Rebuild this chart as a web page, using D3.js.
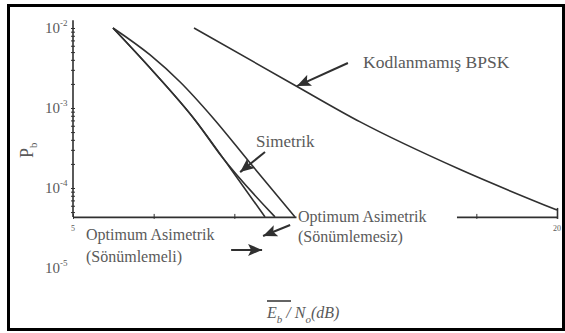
<!DOCTYPE html>
<html>
<head>
<meta charset="utf-8">
<script src="https://cdn.jsdelivr.net/npm/d3@7"></script>
<style>
  html, body { margin: 0; padding: 0; background: #fff; }
  svg { display: block; }
  text { font-family: "Liberation Serif", "Times New Roman", serif; fill: #5a5a5a; }
</style>
</head>
<body>
<svg id="chart" width="565" height="333"></svg>
<script>
// ---- data ----
const xTicks = [5, 7.5, 10, 12.5, 15, 17.5, 20];
const xTickLabels = [[5, "5"], [20, "20"]];
const yDecades = [1e-2, 1e-3, 1e-4, 1e-5];
const yDecadeExp = ["-2", "-3", "-4", "-5"];
const pbFloor = 4.35e-5;          // where the x axis is drawn

// Kodlanmamış BPSK
const bpskDb = [8.75, 11.9, 13.9, 17.0, 20.0];
const bpskPb = [1.0e-2, 1.9e-3, 6.7e-4, 1.7e-4, 5.3e-5];
// Optimum Asimetrik (Sönümlemeli)
const fadDb = [6.24, 7.39, 8.78, 9.87, 10.95];
const fadPb = [1.0e-2, 3.16e-3, 7.1e-4, 1.78e-4, 4.35e-5];
// Simetrik
const symDb = [6.24, 7.39, 8.78, 9.62, 11.26];
const symPb = [1.0e-2, 3.16e-3, 7.1e-4, 2.44e-4, 4.35e-5];
// Optimum Asimetrik (Sönümlemesiz)
const nofDb = [6.24, 7.39, 8.32, 9.34, 10.49, 11.88];
const nofPb = [1.0e-2, 4.6e-3, 2.11e-3, 7.5e-4, 2.05e-4, 4.35e-5];

// annotation arrows (from -> to), in data units
const arrowFromDb = [13.52, 10.95, 11.73, 9.90];
const arrowFromPb = [3.65e-3, 2.82e-4, 3.45e-5, 1.68e-5];
const arrowToDb   = [11.94, 10.18, 10.89, 10.86];
const arrowToPb   = [1.88e-3, 1.58e-4, 2.51e-5, 1.68e-5];
const axisGapDb = [11.88, 16.9];

// ---- drawing ----
const svg = d3.select("#chart");
const ink = "#303030";

const x = d3.scaleLinear().domain([5, 20]).range([73, 557]);
const y = d3.scaleLog().domain([1e-5, 1e-2]).range([268, 28]);
const yAxisPos = y(pbFloor);

// frame
svg.append("rect")
  .attr("x", 8.5).attr("y", 5.5).attr("width", 555).attr("height", 324)
  .attr("fill", "none").attr("stroke", "#000").attr("stroke-width", 3);

// arrow marker
const defs = svg.append("defs");
defs.append("marker").attr("id", "ah")
  .attr("markerUnits", "userSpaceOnUse")
  .attr("markerWidth", 15).attr("markerHeight", 12)
  .attr("refX", 14).attr("refY", 6).attr("orient", "auto")
  .append("path").attr("d", "M0,0 L14,6 L0,12 L3,6 Z").attr("fill", ink);

// y axis
const yMinor = [];
for (let e = -5; e <= -2; e++) for (let m = 1; m < 10; m++) {
  const v = m * Math.pow(10, e);
  if (v >= pbFloor && v <= 1.2e-2) yMinor.push(v);
}
const yAx = svg.append("g").attr("transform", `translate(${x(5)},0)`)
  .call(d3.axisLeft(y).tickValues(yMinor).tickSize(2).tickFormat(""));
yAx.select(".domain").remove();
yAx.selectAll(".tick line").attr("stroke", ink).attr("x2", 2).attr("x1", -2);
svg.append("line")
  .attr("x1", x(5)).attr("x2", x(5))
  .attr("y1", y(1.25e-2)).attr("y2", yAxisPos)
  .attr("stroke", ink).attr("stroke-width", 1.6);

// y decade labels
yDecades.forEach((v, i) => {
  const t = svg.append("text")
    .attr("x", x(5) - 28).attr("y", y(v) + 5)
    .attr("font-size", 15);
  t.append("tspan").text("10");
  t.append("tspan").attr("dy", -7).attr("font-size", 9).text(yDecadeExp[i]);
});

// x axis
const xAx = svg.append("g").attr("transform", `translate(0,${yAxisPos})`)
  .call(d3.axisBottom(x).tickValues(xTicks).tickSize(0).tickFormat(""));
xAx.select(".domain").attr("stroke", ink).attr("stroke-width", 1.8);
xAx.selectAll(".tick line").attr("stroke", ink).attr("y1", -3).attr("y2", 2);
xAx.selectAll(".tick").filter(d => d === 20).select("line").attr("y1", -9).attr("stroke-width", 1.6);
xTickLabels.forEach(([v, s]) => {
  svg.append("text").attr("x", x(v)).attr("y", yAxisPos + 14)
    .attr("text-anchor", "middle").attr("font-size", 8).text(s);
});
// gap in the axis behind the label
svg.append("rect")
  .attr("x", x(axisGapDb[0]) + 1.5).attr("y", yAxisPos - 4)
  .attr("width", x(axisGapDb[1]) - x(axisGapDb[0]) - 1.5).attr("height", 8)
  .attr("fill", "#fff");

// curves
const line = d3.line().x(d => x(d[0])).y(d => y(d[1])).curve(d3.curveMonotoneX);
const series = [
  [bpskDb, bpskPb], [fadDb, fadPb], [symDb, symPb], [nofDb, nofPb]
];
series.forEach(([xs, ys]) => {
  svg.append("path")
    .datum(xs.map((v, i) => [v, ys[i]]))
    .attr("d", line).attr("fill", "none")
    .attr("stroke", ink).attr("stroke-width", 1.6);
});

// arrows
arrowFromDb.forEach((v, i) => {
  svg.append("line")
    .attr("x1", x(v)).attr("y1", y(arrowFromPb[i]))
    .attr("x2", x(arrowToDb[i])).attr("y2", y(arrowToPb[i]))
    .attr("stroke", ink).attr("stroke-width", 2)
    .attr("marker-end", "url(#ah)");
});

// annotation texts
svg.append("text").attr("x", 363).attr("y", 68).attr("font-size", 17.5).text("Kodlanmamış BPSK");
svg.append("text").attr("x", 256).attr("y", 147).attr("font-size", 17).text("Simetrik");
svg.append("text").attr("x", 298).attr("y", 222).attr("font-size", 16).text("Optimum Asimetrik");
svg.append("text").attr("x", 298).attr("y", 242).attr("font-size", 16).text("(Sönümlemesiz)");
svg.append("text").attr("x", 86).attr("y", 240).attr("font-size", 16).text("Optimum Asimetrik");
svg.append("text").attr("x", 86).attr("y", 262).attr("font-size", 16).text("(Sönümlemeli)");

// y axis title P_b (rotated)
const yt = svg.append("text")
  .attr("transform", "translate(33,158) rotate(-90)")
  .attr("font-size", 18);
yt.append("tspan").text("P");
yt.append("tspan").attr("dy", 4).attr("font-size", 11).text("b");

// x axis title  (overline E_b) / N_o (dB)
const xt = svg.append("text").attr("x", 267).attr("y", 318)
  .attr("font-size", 16).attr("font-style", "italic");
xt.append("tspan").text("E");
xt.append("tspan").attr("dy", 5).attr("font-size", 11).text("b");
xt.append("tspan").attr("dy", -5).text(" / N");
xt.append("tspan").attr("dy", 5).attr("font-size", 11).text("o");
xt.append("tspan").attr("dy", -5).text("(dB)");
svg.append("line")
  .attr("x1", 267).attr("x2", 291).attr("y1", 301).attr("y2", 301)
  .attr("stroke", ink).attr("stroke-width", 1.5);
</script>
</body>
</html>
